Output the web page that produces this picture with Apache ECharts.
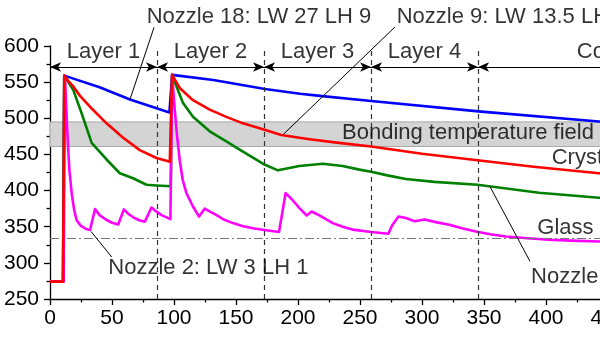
<!DOCTYPE html>
<html><head><meta charset="utf-8">
<script src="https://cdn.jsdelivr.net/npm/echarts@6/dist/echarts.min.js"></script>
<style>html,body{margin:0;padding:0;overflow:hidden;background:#fff}#main{width:700px;height:338px}</style>
</head><body><div id="main"></div>
<script>
// ---- data (time in s, temperature in °C) ----
const nozzle18 = [[0,274],[10.5,274],[11.5,559],[40,543],[64.5,526],[96.3,508],[97.4,508],[98.5,560],[131.7,553],[173.4,540.5],[201.6,534],[217.7,531],[259,524],[345.5,509.5],[442.6,495.5],[500,488]];
const nozzle9 = [[0,274],[10.5,274],[11.5,559],[15,551],[18.8,544],[24.2,531],[32.2,516],[45.6,493],[59,473],[72.4,456],[85.9,445],[96.6,440],[97.4,440],[98.5,560],[104.6,542],[115.3,525],[128.8,512],[142.2,502],[155.6,493],[173,484],[186.5,477],[209.3,471],[233,466],[259,461],[300,451],[344.7,442],[390,433],[442.6,424],[500,415]];
const nozzleGreen = [[0,274],[10.5,274],[11.5,559],[18.8,539],[25.5,507],[33.6,466],[45.6,443],[56.3,424],[67,417],[77.8,408],[85.9,407],[97.4,406],[98.5,560],[102,544],[107.3,521],[115.3,502],[128.8,482],[142.2,468],[155.6,454],[173,436],[183.8,428],[192,431],[201,434],[220,437],[236,434],[249.5,429],[259,426],[272,421],[287,416],[310,412],[344.7,408],[394.4,397],[442.6,390],[500,382]];
const nozzle2 = [[0,274],[11,274],[12,559],[14,480],[15.6,429],[17.5,396],[19.5,373],[21.5,359],[25,351],[29,347],[32.3,345.5],[36.3,374.4],[40,366],[45,360],[50,355.5],[55,353],[59.6,374],[63,368],[68,362],[72,359],[76.5,357],[81.8,376.6],[85,372],[90,366],[97.1,360.5],[98.5,560],[100.6,512],[102.5,475],[104.6,442],[107,415],[110,396.5],[115.3,378],[120.2,364],[124.7,375],[129,371],[134,366.5],[140,360],[147.5,355],[155,351],[163.6,348],[173,345.5],[184.7,342.6],[190,396.5],[195,388],[201,376],[207,365.5],[211,371],[218,365],[228,355],[236,350],[244,346],[259,342.6],[272.8,340.2],[276,352],[281,364],[287,362],[294,357.5],[302,360],[312,356],[322,352.7],[333,347.5],[343.4,343.4],[355,339.5],[367.6,336.5],[385,334],[402.4,332],[420,330.8],[442.6,329.6],[500,328]];
const layerBounds = [0, 86.3, 172.6, 258.9, 345.2, 500];
const layerNames = ['Layer 1', 'Layer 2', 'Layer 3', 'Layer 4'];
const coolingName = 'Cooling';
const bondingField = [461, 495];
const glassTemp = 334;
const xRange = [0, 500];
const yRange = [250, 600];

// ---- annotation placement (data coordinates) ----
const arrowLevel = 571, layerLabelLevel = 591.5;
const notes = [
  {text: 'Nozzle 18: LW 27 LH 9', at: [78, 640], from: [64.5, 526], to: [83.9, 625.8]},
  {text: 'Nozzle 9: LW 13.5 LH 4.5', at: [279.6, 640], from: [187.7, 477], to: [278.2, 626.3]},
  {text: 'Nozzle 2: LW 3 LH 1', at: [47, 292.8], from: [33.1, 343.4], to: [49.8, 308]},
  {text: 'Nozzle', at: [388, 281], from: [354.8, 405.6], to: [387.1, 302]},
  {text: 'Bonding temperature field', at: [235.5, 479.8]},
  {text: 'Crystallization temperature', at: [404.6, 444.8]},
  {text: 'Glass transition temperature', at: [393, 348]},
  {text: coolingName, at: [424.8, layerLabelLevel]}
];

const FONT = '"Liberation Sans", Arial, sans-serif';
const chart = echarts.init(document.getElementById('main'), null, {renderer: 'canvas'});

const textData = notes.map(n => ({value: n.at, label: {formatter: n.text, align: 'left'}}));
for (let i = 0; i < layerNames.length; i++) {
  textData.push({value: [(layerBounds[i] + layerBounds[i+1]) / 2, layerLabelLevel], label: {formatter: layerNames[i], align: 'center'}});
}

const leaderSeries = notes.filter(n => n.from).map(n => ({
  type: 'line', data: [n.from, n.to], symbol: 'none', clip: false, silent: true, z: 6,
  lineStyle: {color: '#000', width: 1}
}));

const arrowSegs = [];
for (let i = 0; i < layerBounds.length - 1; i++) {
  arrowSegs.push([{coord: [layerBounds[i], arrowLevel]}, {coord: [layerBounds[i+1], arrowLevel]}]);
}
const dashSegs = layerBounds.slice(1, 5).map(b => [{coord: [b, yRange[0]]}, {coord: [b, 597]}]);

const curve = (name, data, color, z) => ({
  type: 'line', name, data, symbol: 'none', z, silent: true,
  lineStyle: {color, width: 2.6, join: 'round'}
});

chart.setOption({
  animation: false,
  backgroundColor: '#fff',
  textStyle: {fontFamily: FONT},
  grid: {left: 50, top: 46, width: 620, height: 253},
  xAxis: {
    type: 'value', min: xRange[0], max: xRange[1], interval: 50,
    axisLine: {show: true, lineStyle: {color: '#000', width: 1.3}},
    axisTick: {show: true, inside: false, length: 6, lineStyle: {color: '#000', width: 1.3}},
    minorTick: {show: true, splitNumber: 2, length: 3.5, lineStyle: {color: '#000', width: 1.3}},
    splitLine: {show: false},
    axisLabel: {color: '#000', fontSize: 21, fontFamily: FONT, margin: 9}
  },
  yAxis: {
    type: 'value', min: yRange[0], max: yRange[1], interval: 50,
    axisLine: {show: true, lineStyle: {color: '#000', width: 1.3}},
    axisTick: {show: true, inside: false, length: 6, lineStyle: {color: '#000', width: 1.3}},
    minorTick: {show: true, splitNumber: 2, length: 3.5, lineStyle: {color: '#000', width: 1.3}},
    splitLine: {show: false},
    axisLabel: {color: '#000', fontSize: 21, fontFamily: FONT, margin: 11}
  },
  series: [
    {
      type: 'line', data: [], z: 1, silent: true,
      markArea: {
        silent: true,
        itemStyle: {color: '#d4d4d4', borderColor: '#a8a8a8', borderWidth: 1},
        data: [[{coord: [xRange[0], bondingField[1]]}, {coord: [xRange[1], bondingField[0]]}]]
      },
      markLine: {
        silent: true, symbol: 'none', label: {show: false},
        lineStyle: {color: '#777', width: 1.2, type: [9, 3, 2, 3]},
        data: [[{coord: [xRange[0], glassTemp]}, {coord: [xRange[1], glassTemp]}]]
      }
    },
    {
      type: 'line', data: [], z: 2, silent: true,
      markLine: {
        silent: true, symbol: 'none', label: {show: false},
        lineStyle: {color: '#333', width: 1.2, type: [5, 4]},
        data: dashSegs
      }
    },
    {
      type: 'line', data: [], z: 3, silent: true,
      markLine: {
        silent: true, symbol: ['arrow', 'arrow'], symbolSize: [7, 11], label: {show: false},
        lineStyle: {color: '#000', width: 1, type: 'solid'},
        itemStyle: {color: '#000'},
        data: arrowSegs
      }
    },
    curve('Nozzle 18', nozzle18, '#0000ff', 4),
    curve('Nozzle green', nozzleGreen, '#008000', 4),
    curve('Nozzle 2', nozzle2, '#ff00ff', 4),
    curve('Nozzle 9', nozzle9, '#ff0000', 5),
    ...leaderSeries,
    {
      type: 'scatter', data: textData, symbolSize: 0, clip: false, silent: true, z: 10,
      itemStyle: {color: 'rgba(0,0,0,0)'},
      label: {show: true, position: 'inside', verticalAlign: 'middle', color: '#000', fontSize: 22, fontFamily: FONT}
    }
  ]
});
</script></body></html>
